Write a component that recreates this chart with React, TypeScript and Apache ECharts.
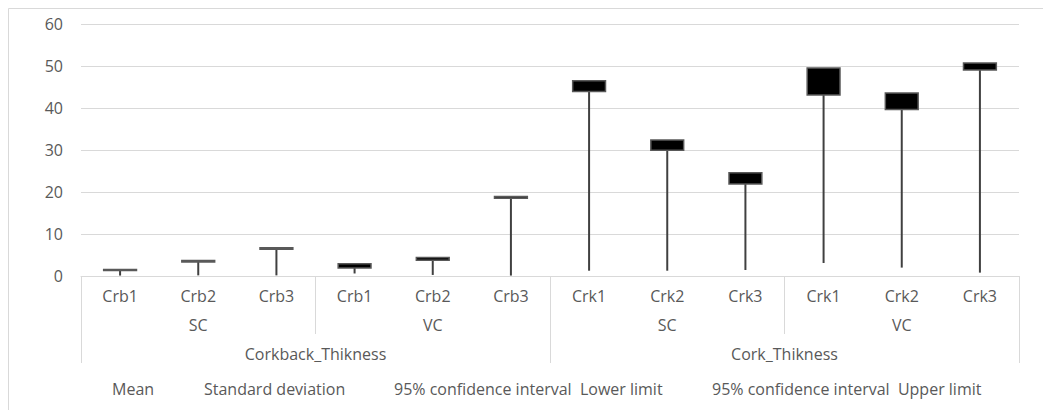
import React, { useEffect, useRef } from "react";
import * as echarts from "echarts";

const categories = ["Crb1", "Crb2", "Crb3", "Crb1", "Crb2", "Crb3", "Crk1", "Crk2", "Crk3", "Crk1", "Crk2", "Crk3"];
const groupLabels = ["SC", "VC", "SC", "VC"];
const topLabels = ["Corkback_Thikness", "Cork_Thikness"];
const seriesNames = ["Mean", "Standard deviation", "95% confidence interval  Lower limit", "95% confidence interval  Upper limit"];

const mean = [1.3, 3.34, 6.37, 1.92, 3.75, 18.5, 43.9, 29.95, 21.9, 43.1, 39.65, 49.05];
const stdDev = [0.1, 0.15, 0.15, 0.6, 0.25, 0.1, 1.26, 1.26, 1.43, 3.1, 2.0, 0.8];
const ciUpper = [1.56, 3.7, 6.73, 2.92, 4.42, 18.95, 46.5, 32.4, 24.6, 49.5, 43.55, 50.7];
const ciLower = mean.map((m, i) => +(2 * m - ciUpper[i]).toFixed(2));

const yTicks = { min: 0, max: 60, interval: 10 };

const legendX = [104, 196, 386, 704];

const FONT = "'Open Sans', sans-serif";
const FS = 16;
const TEXT = "#595959";
const LINE = "#d9d9d9";

export default function App() {
  const ref = useRef<HTMLDivElement>(null);
  useEffect(() => {
    if (!ref.current) return;
    const chart = echarts.init(ref.current, undefined, { renderer: "svg" });
    const data = categories.map((_, i) => [
      i,
      mean[i],
      ciUpper[i],
      Math.min(stdDev[i], ciLower[i]),
    ]);
    const labelBase = { color: TEXT, fontFamily: FONT, fontSize: FS, lineHeight: 20 };
    chart.setOption({
      animation: false,
      grid: { left: 73, right: 32, top: 16, bottom: 134 },
      xAxis: [
        {
          type: "category",
          data: categories,
          position: "bottom",
          axisLine: { show: true, lineStyle: { color: LINE, width: 1 } },
          axisTick: { show: false },
          axisLabel: { ...labelBase, margin: 10, interval: 0 },
        },
        {
          type: "category",
          data: groupLabels,
          position: "bottom",
          axisLine: { show: false },
          axisTick: { show: true, length: 58, interval: 0, lineStyle: { color: LINE, width: 1 } },
          axisLabel: { ...labelBase, margin: 39, interval: 0 },
        },
        {
          type: "category",
          data: topLabels,
          position: "bottom",
          axisLine: { show: false },
          axisTick: { show: true, length: 87, interval: 0, lineStyle: { color: LINE, width: 1 } },
          axisLabel: { ...labelBase, margin: 68, interval: 0 },
        },
      ],
      yAxis: {
        type: "value",
        min: yTicks.min,
        max: yTicks.max,
        interval: yTicks.interval,
        axisLine: { show: false },
        axisTick: { show: false },
        axisLabel: { color: TEXT, fontFamily: FONT, fontSize: FS, margin: 18 },
        splitLine: { lineStyle: { color: LINE, width: 1 } },
      },
      graphic: [
        {
          type: "rect",
          shape: { x: 0.5, y: 0.5, width: 2000, height: 2000 },
          style: { fill: "none", stroke: LINE, lineWidth: 1 },
          silent: true,
        },
        ...seriesNames.map((name, i) => ({
          type: "text",
          x: legendX[i],
          y: 381,
          style: {
            text: name,
            fill: TEXT,
            font: `${FS}px ${FONT}`,
            verticalAlign: "middle",
            textAlign: "left",
          },
        })),
      ],
      series: [
        {
          type: "custom",
          name: "stock",
          xAxisIndex: 0,
          yAxisIndex: 0,
          data,
          encode: { x: 0, y: [1, 2, 3] },
          renderItem: (params: any, api: any) => {
            const x = api.value(0);
            const pTop = api.coord([x, api.value(2)]);
            const pBot = api.coord([x, api.value(1)]);
            const pLow = api.coord([x, api.value(3)]);
            const w = api.size([1, 0])[0] * 0.42;
            return {
              type: "group",
              children: [
                {
                  type: "line",
                  shape: { x1: pTop[0], y1: pBot[1], x2: pTop[0], y2: pLow[1] },
                  style: { stroke: "#404040", lineWidth: 2 },
                },
                {
                  type: "rect",
                  shape: { x: pTop[0] - w / 2, y: pTop[1], width: w, height: pBot[1] - pTop[1] },
                  style: { fill: "#000", stroke: "#595959", lineWidth: 1.5 },
                },
              ],
            };
          },
        },
      ],
    });
    return () => chart.dispose();
  }, []);
  return <div ref={ref} style={{ width: 1043, height: 402 }} />;
}
